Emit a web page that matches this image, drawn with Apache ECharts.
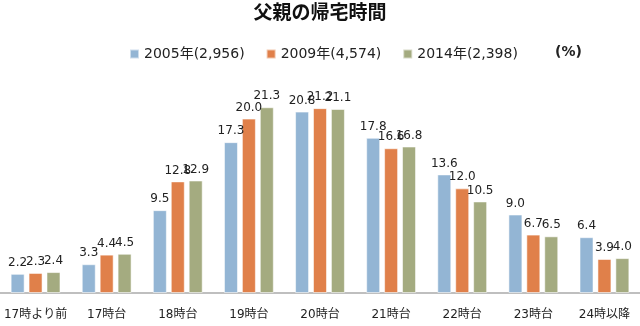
<!DOCTYPE html>
<html><head><meta charset="utf-8">
<script src="https://cdn.jsdelivr.net/npm/echarts@6/dist/echarts.min.js"></script>
<style>html,body{margin:0;padding:0;background:#fff}#c{width:640px;height:326px}</style>
</head><body><div id="c"></div>
<script>
const categories = ['17時より前','17時台','18時台','19時台','20時台','21時台','22時台','23時台','24時以降'];
const seriesNames = ['2005年(2,956)','2009年(4,574)','2014年(2,398)'];
const values2005 = [2.2, 3.3, 9.5, 17.3, 20.8, 17.8, 13.6, 9.0, 6.4];
const values2009 = [2.3, 4.4, 12.8, 20.0, 21.2, 16.6, 12.0, 6.7, 3.9];
const values2014 = [2.4, 4.5, 12.9, 21.3, 21.1, 16.8, 10.5, 6.5, 4.0];
const colors = ['#93B5D4', '#E0804A', '#A4AB80'];
const allValues = [values2005, values2009, values2014];

const chart = echarts.init(document.getElementById('c'), null, {renderer:'canvas'});
const font = '"DejaVu Sans", "Noto Sans CJK JP", sans-serif';
chart.setOption({
  animation: false,
  title: {
    text: '父親の帰宅時間', left: 'center', top: 2, padding: 0,
    textStyle: {fontSize: 19, fontWeight: 'bold', color: '#111', fontFamily: '"Noto Sans CJK JP", sans-serif'}
  },
  legend: {
    data: seriesNames, left: 129, top: 47, padding: 0, itemWidth: 9, itemHeight: 9, itemGap: 21,
    icon: 'rect',
    textStyle: {fontSize: 14, color: '#222', fontFamily: font}
  },
  graphic: [{
    type: 'text', left: 555, top: 45,
    style: {text: '(%)', fontSize: 14, fontWeight: 'bold', fill: '#222', fontFamily: font}
  }],
  grid: {left: 0, right: 0, top: 75, bottom: 33, containLabel: false},
  xAxis: {
    type: 'category', data: categories,
    axisLine: {lineStyle: {color: '#BFBFBF', width: 2}},
    axisTick: {show: false},
    axisLabel: {fontSize: 12, color: '#222', margin: 16, fontFamily: font, interval: 0}
  },
  yAxis: {type: 'value', min: 0, max: 25, show: false, splitLine: {show: false}},
  series: seriesNames.map((n, i) => ({
    name: n, type: 'bar', data: allValues[i],
    barWidth: 14, barGap: '28%',
    itemStyle: {color: colors[i], borderColor: 'rgba(255,255,255,0.55)', borderWidth: 1},
    label: {
      show: true, position: 'top', distance: 5, fontSize: 12, color: '#222', fontFamily: font,
      formatter: p => p.value.toFixed(1)
    }
  }))
});
</script></body></html>
